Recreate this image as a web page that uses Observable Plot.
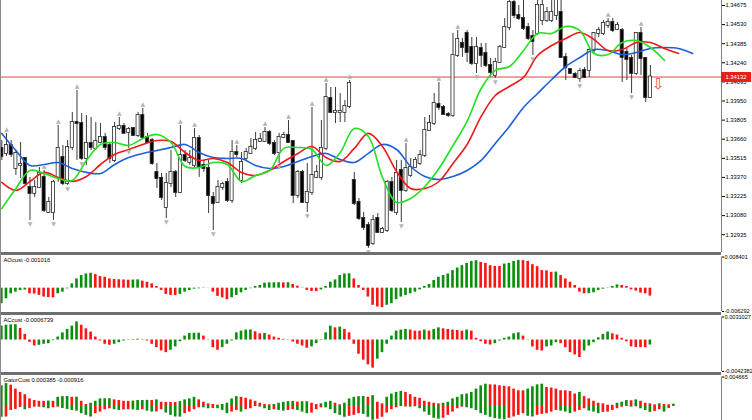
<!DOCTYPE html>
<html><head><meta charset="utf-8">
<script src="https://cdn.jsdelivr.net/npm/d3@7"></script>
<script src="https://cdn.jsdelivr.net/npm/@observablehq/plot@0.6"></script>
<style>
body{margin:0;background:#fff;}
#wrap{position:relative;width:752px;height:420px;overflow:hidden;background:#fff;font-family:"Liberation Sans",Arial,sans-serif;}
.sep{position:absolute;left:0;width:721px;height:3px;background:#6e6e6e;}
#priceTag{position:absolute;left:721px;width:30px;height:10px;background:#e8201c;color:#fff;font-size:5.8px;line-height:10px;text-align:center;font-family:"Liberation Sans",Arial,sans-serif;}
</style></head><body><div id="wrap"></div>
<script>
// ---------- main chart data (bar index = array position) ----------
const open = [1.33590,1.33552,1.33612,1.33438,1.33461,1.33514,1.33294,1.33248,1.33294,1.33370,
1.33104,1.33104,1.33370,1.33521,1.33324,1.33597,1.33787,1.33779,1.33514,1.33628,
1.33590,1.33635,1.33673,1.33612,1.33499,1.33741,1.33757,1.33711,1.33741,1.33688,
1.33840,1.33673,1.33650,1.33408,1.33362,1.33142,1.33324,1.33408,1.33256,1.33537,
1.33483,1.33461,1.33666,1.33461,1.33438,1.33218,1.33180,1.33294,1.33332,1.33195,
1.33559,1.33347,1.33514,1.33552,1.33590,1.33643,1.33643,1.33711,1.33628,1.33559,
1.33673,1.33688,1.33643,1.33233,1.33408,1.33180,1.33256,1.33370,1.33370,1.33590,
1.33969,1.33863,1.33863,1.33863,1.33908,1.33347,1.33180,1.33058,1.33005,1.32869,
1.33058,1.32952,1.32967,1.33332,1.33104,1.33423,1.33271,1.33385,1.33445,1.33476,
1.33537,1.33726,1.33779,1.33924,1.33901,1.33848,1.33840,1.34296,1.34387,1.34463,
1.34356,1.34235,1.34349,1.34311,1.34220,1.34144,1.34242,1.34356,1.34508,1.34698,
1.34599,1.34576,1.34508,1.34440,1.34463,1.34561,1.34561,1.34561,1.34599,1.34622,
1.34280,1.34189,1.34151,1.34121,1.34182,1.34182,1.34333,1.34463,1.34463,1.34523,
1.34546,1.34493,1.34485,1.34318,1.34273,1.34159,1.34463,1.34273,1.33977];
const high = [1.33650,1.33704,1.33650,1.33574,1.33635,1.33521,1.33370,1.33347,1.33445,1.33423,
1.33218,1.33347,1.33764,1.33612,1.33650,1.33863,1.34030,1.33855,1.33840,1.33825,
1.33787,1.33779,1.33704,1.33635,1.33787,1.33825,1.33779,1.33749,1.33749,1.33863,
1.33893,1.33704,1.33666,1.33476,1.33400,1.33400,1.33574,1.33423,1.33764,1.33574,
1.33574,1.33741,1.33688,1.33499,1.33499,1.33256,1.33347,1.33332,1.33362,1.33650,
1.33612,1.33559,1.33590,1.33666,1.33711,1.33704,1.33749,1.33726,1.33650,1.33704,
1.33711,1.33802,1.33650,1.33423,1.33423,1.33476,1.33901,1.33461,1.33802,1.34083,
1.34053,1.34053,1.34007,1.33954,1.34106,1.33408,1.33210,1.33104,1.33028,1.33081,
1.33096,1.32990,1.33347,1.33370,1.33499,1.33499,1.33628,1.33514,1.33521,1.33574,
1.33825,1.33840,1.34007,1.34091,1.33916,1.33863,1.34463,1.34485,1.34425,1.34485,
1.34432,1.34432,1.34387,1.34387,1.34273,1.34273,1.34371,1.34576,1.34774,1.34751,
1.34675,1.34713,1.34538,1.34485,1.34751,1.34751,1.34660,1.34736,1.34774,1.34736,
1.34311,1.34197,1.34167,1.34197,1.34204,1.34349,1.34470,1.34508,1.34561,1.34576,
1.34576,1.34546,1.34500,1.34349,1.34296,1.34470,1.34508,1.34280,1.34220];
const low = [1.33499,1.33529,1.33521,1.33385,1.33362,1.33309,1.33043,1.33218,1.33286,1.33104,
1.33096,1.33043,1.33332,1.33309,1.33309,1.33574,1.33499,1.33499,1.33461,1.33574,
1.33574,1.33628,1.33574,1.33476,1.33483,1.33726,1.33704,1.33590,1.33681,1.33673,
1.33666,1.33628,1.33461,1.33286,1.33195,1.33058,1.33294,1.33218,1.33248,1.33483,
1.33461,1.33438,1.33370,1.33408,1.33096,1.32967,1.33172,1.33271,1.33180,1.33172,
1.33521,1.33324,1.33499,1.33544,1.33574,1.33635,1.33635,1.33612,1.33536,1.33476,
1.33666,1.33628,1.33172,1.33210,1.33172,1.33104,1.33233,1.33362,1.33347,1.33574,
1.33855,1.33779,1.33787,1.33787,1.33893,1.33157,1.33043,1.32967,1.32831,1.32853,
1.32945,1.32945,1.32952,1.33104,1.33081,1.33028,1.33256,1.33370,1.33438,1.33461,
1.33521,1.33719,1.33764,1.33878,1.33840,1.33825,1.33825,1.34280,1.34280,1.34242,
1.34220,1.34159,1.34204,1.34204,1.34129,1.34121,1.34235,1.34349,1.34485,1.34576,
1.34561,1.34485,1.34409,1.34296,1.34447,1.34523,1.34546,1.34546,1.34561,1.34273,
1.34106,1.34151,1.34121,1.34091,1.34121,1.34129,1.34311,1.34432,1.34447,1.34500,
1.34470,1.34485,1.34091,1.34106,1.34007,1.34144,1.34144,1.33939,1.33969];
const close = [1.33529,1.33612,1.33544,1.33552,1.33468,1.33324,1.33248,1.33294,1.33400,1.33119,
1.33180,1.33332,1.33590,1.33324,1.33597,1.33787,1.33779,1.33514,1.33628,1.33597,
1.33643,1.33673,1.33597,1.33514,1.33749,1.33757,1.33704,1.33734,1.33688,1.33840,
1.33673,1.33635,1.33476,1.33362,1.33218,1.33324,1.33408,1.33256,1.33537,1.33499,
1.33514,1.33666,1.33445,1.33438,1.33233,1.33172,1.33294,1.33316,1.33195,1.33559,
1.33544,1.33483,1.33559,1.33597,1.33650,1.33658,1.33711,1.33628,1.33552,1.33673,
1.33688,1.33635,1.33233,1.33408,1.33180,1.33256,1.33385,1.33408,1.33590,1.33977,
1.33863,1.33871,1.33871,1.33908,1.34083,1.33172,1.33058,1.32990,1.32853,1.33043,
1.32952,1.32975,1.33332,1.33119,1.33400,1.33271,1.33438,1.33445,1.33499,1.33537,
1.33726,1.33779,1.33931,1.33901,1.33848,1.33840,1.34296,1.34417,1.34356,1.34318,
1.34235,1.34356,1.34296,1.34220,1.34167,1.34242,1.34356,1.34508,1.34698,1.34599,
1.34576,1.34500,1.34425,1.34402,1.34675,1.34675,1.34622,1.34622,1.34713,1.34280,
1.34204,1.34159,1.34129,1.34174,1.34129,1.34333,1.34463,1.34485,1.34538,1.34546,
1.34485,1.34523,1.34280,1.34265,1.34159,1.34463,1.34273,1.33977,1.34132];

const fractalUp = [1,9,12,16,25,30,38,41,50,56,61,66,69,74,86,93,97,129,136];
const fractalDown = [6,11,14,17,27,35,45,59,65,78,85,101,105,113,123,134];

// moving-average (alligator-like) lines, sampled every 3 bars
const maBar = [0,3,6,9,12,15,18,21,24,27,30,33,36,39,42,45,48,51,54,57,60,63,66,69,72,75,78,81,84,87,90,93,96,99,102,105,108,111,114,117,120,123,126,129,132,135,138,141,144,147];
const blueLine = [1.33704,1.33574,1.33461,1.33468,1.33483,1.33438,1.33408,1.33400,1.33468,1.33521,
1.33552,1.33574,1.33597,1.33620,1.33559,1.33521,1.33514,1.33514,1.33461,1.33438,
1.33453,1.33491,1.33529,1.33552,1.33506,1.33483,1.33552,1.33620,1.33582,1.33453,
1.33377,1.33354,1.33377,1.33423,1.33499,1.33628,1.33757,1.33901,1.34007,1.34113,
1.34212,1.34280,1.34341,1.34333,1.34303,1.34318,1.34349,1.34356,1.34349,1.34311];
const redLine = [1.33332,1.33271,1.33339,1.33408,1.33370,1.33339,1.33377,1.33468,1.33544,1.33582,
1.33620,1.33650,1.33643,1.33559,1.33499,1.33514,1.33483,1.33408,1.33385,1.33423,
1.33491,1.33552,1.33605,1.33521,1.33491,1.33590,1.33704,1.33605,1.33415,1.33286,
1.33286,1.33339,1.33476,1.33620,1.33833,1.33992,1.34060,1.34129,1.34296,1.34371,
1.34425,1.34470,1.34417,1.34333,1.34341,1.34394,1.34394,1.34349,1.34311];
const greenLine = [1.33134,1.33286,1.33423,1.33400,1.33362,1.33347,1.33499,1.33620,1.33635,1.33612,
1.33666,1.33696,1.33635,1.33453,1.33445,1.33483,1.33468,1.33339,1.33385,1.33423,
1.33590,1.33597,1.33582,1.33461,1.33559,1.33741,1.33681,1.33370,1.33180,1.33210,
1.33301,1.33438,1.33612,1.33795,1.34045,1.34182,1.34212,1.34333,1.34463,1.34463,
1.34516,1.34485,1.34311,1.34303,1.34394,1.34409,1.34356,1.34258];

const lastPrice = 1.34132;
const sellSignal = [{bar:138, price:1.34075}];
const priceTicks = [1.34675,1.34530,1.34385,1.34240,1.34095,1.33950,1.33805,1.33660,1.33515,1.33370,1.33225,1.33080,1.32935];

// ---------- sub-window data ----------
const aoValues = [-0.00419,-0.00286,-0.00152,-0.00107,-0.00064,-0.00051,-0.00152,-0.00158,-0.00195,-0.00240,
-0.00254,-0.00262,-0.00152,-0.00107,-0.00019,0.00115,0.00248,0.00339,0.00382,0.00401,
0.00366,0.00312,0.00294,0.00248,0.00235,0.00227,0.00222,0.00214,0.00219,0.00224,
0.00187,0.00160,0.00115,0.00045,-0.00061,-0.00168,-0.00195,-0.00200,-0.00168,-0.00107,
-0.00061,-0.00027,-0.00016,-0.00008,-0.00003,-0.00107,-0.00222,-0.00259,-0.00312,-0.00259,
-0.00195,-0.00125,-0.00061,-0.00013,0.00045,0.00072,0.00134,0.00142,0.00144,0.00147,
0.00142,0.00147,0.00099,0.00053,0.00008,-0.00061,-0.00088,-0.00093,-0.00045,0.00045,
0.00160,0.00222,0.00339,0.00382,0.00387,0.00248,0.00072,-0.00061,-0.00240,-0.00462,
-0.00507,-0.00526,-0.00462,-0.00419,-0.00312,-0.00240,-0.00195,-0.00152,-0.00107,-0.00045,
0.00045,0.00099,0.00206,0.00294,0.00339,0.00382,0.00473,0.00542,0.00606,0.00668,
0.00721,0.00740,0.00694,0.00668,0.00606,0.00587,0.00585,0.00649,0.00668,0.00721,
0.00748,0.00742,0.00721,0.00633,0.00579,0.00473,0.00467,0.00427,0.00433,0.00339,
0.00248,0.00160,0.00072,-0.00107,-0.00152,-0.00147,-0.00125,-0.00061,-0.00027,-0.00008,
0.00045,0.00088,0.00072,0.00045,-0.00045,-0.00080,-0.00134,-0.00152,-0.00214];
const acValues = [0.00187,0.00200,0.00204,0.00207,0.00156,0.00076,-0.00031,-0.00080,-0.00071,-0.00057,
-0.00049,-0.00009,0.00040,0.00097,0.00143,0.00187,0.00244,0.00200,0.00151,0.00107,
0.00040,-0.00013,-0.00057,-0.00071,-0.00057,-0.00036,-0.00013,-0.00004,0.00007,0.00011,
0.00005,-0.00013,-0.00057,-0.00103,-0.00147,-0.00170,-0.00138,-0.00093,-0.00023,0.00053,
0.00089,0.00091,0.00092,0.00053,-0.00004,-0.00103,-0.00138,-0.00103,-0.00057,-0.00013,
0.00097,0.00120,0.00134,0.00136,0.00111,0.00084,0.00089,0.00067,0.00040,0.00023,
0.00009,0.00004,-0.00027,-0.00057,-0.00080,-0.00111,-0.00093,-0.00049,-0.00007,0.00097,
0.00187,0.00164,0.00174,0.00143,0.00097,-0.00057,-0.00191,-0.00271,-0.00334,-0.00378,
-0.00258,-0.00170,-0.00057,0.00053,0.00120,0.00134,0.00143,0.00134,0.00120,0.00119,
0.00134,0.00120,0.00143,0.00164,0.00151,0.00143,0.00134,0.00129,0.00120,0.00134,
0.00120,0.00023,-0.00023,-0.00057,-0.00067,-0.00049,-0.00013,0.00023,0.00040,0.00084,
0.00097,0.00053,-0.00004,-0.00093,-0.00138,-0.00147,-0.00093,-0.00080,-0.00036,-0.00049,
-0.00103,-0.00170,-0.00200,-0.00236,-0.00147,-0.00080,-0.00036,0.00031,0.00076,0.00107,
0.00084,0.00067,0.00023,-0.00023,-0.00091,-0.00100,-0.00101,-0.00103,-0.00067];
const gatorUpper = [0.00322,0.00359,0.00333,0.00269,0.00214,0.00177,0.00108,0.00081,0.00069,0.00068,
0.00072,0.00068,0.00134,0.00145,0.00148,0.00134,0.00137,0.00069,0.00016,0.00037,
0.00069,0.00108,0.00109,0.00111,0.00092,0.00081,0.00069,0.00068,0.00072,0.00081,
0.00082,0.00084,0.00081,0.00092,0.00053,0.00052,0.00050,0.00048,0.00064,0.00092,
0.00108,0.00134,0.00092,0.00053,0.00027,0.00016,0.00005,0.00016,0.00037,0.00108,
0.00145,0.00134,0.00118,0.00092,0.00069,0.00037,0.00016,0.00011,0.00016,0.00037,
0.00053,0.00064,0.00066,0.00056,0.00060,0.00061,0.00037,0.00016,0.00027,0.00053,
0.00069,0.00037,0.00011,0.00037,0.00108,0.00134,0.00145,0.00147,0.00134,0.00161,
0.00053,0.00027,0.00134,0.00188,0.00214,0.00230,0.00214,0.00177,0.00134,0.00118,
0.00069,0.00053,0.00037,0.00027,0.00037,0.00053,0.00108,0.00134,0.00177,0.00188,
0.00214,0.00269,0.00322,0.00349,0.00338,0.00336,0.00322,0.00314,0.00306,0.00269,
0.00242,0.00240,0.00269,0.00306,0.00338,0.00349,0.00295,0.00285,0.00269,0.00242,
0.00240,0.00230,0.00188,0.00214,0.00145,0.00108,0.00069,0.00037,0.00027,0.00005,
0.00003,0.00037,0.00053,0.00081,0.00077,0.00092,0.00069,0.00037,0.00027,0.00011,
0.00027,0.00016,0.00011,0.00021];
const gatorLower = [-0.00193,-0.00188,-0.00081,-0.00064,-0.00032,-0.00069,-0.00048,-0.00027,-0.00027,-0.00037,
-0.00053,-0.00037,-0.00027,-0.00048,-0.00064,-0.00081,-0.00092,-0.00134,-0.00161,-0.00188,
-0.00134,-0.00108,-0.00069,-0.00053,-0.00069,-0.00081,-0.00072,-0.00069,-0.00072,-0.00081,
-0.00069,-0.00092,-0.00108,-0.00105,-0.00069,-0.00124,-0.00161,-0.00188,-0.00190,-0.00134,
-0.00108,-0.00069,-0.00037,-0.00039,-0.00053,-0.00048,-0.00053,-0.00081,-0.00134,-0.00108,
-0.00081,-0.00108,-0.00069,-0.00053,-0.00016,-0.00027,-0.00053,-0.00081,-0.00069,-0.00081,
-0.00092,-0.00081,-0.00069,-0.00081,-0.00108,-0.00134,-0.00124,-0.00069,-0.00037,-0.00039,
-0.00069,-0.00134,-0.00161,-0.00193,-0.00177,-0.00161,-0.00134,-0.00145,-0.00193,-0.00242,
-0.00225,-0.00193,-0.00124,-0.00069,-0.00037,-0.00016,-0.00024,-0.00027,-0.00021,-0.00053,
-0.00108,-0.00161,-0.00209,-0.00225,-0.00209,-0.00161,-0.00108,-0.00053,-0.00027,-0.00037,
-0.00053,-0.00081,-0.00134,-0.00161,-0.00193,-0.00214,-0.00225,-0.00233,-0.00209,-0.00188,
-0.00161,-0.00134,-0.00177,-0.00188,-0.00161,-0.00145,-0.00134,-0.00108,-0.00081,-0.00092,
-0.00108,-0.00134,-0.00108,-0.00081,-0.00053,-0.00092,-0.00108,-0.00134,-0.00113,-0.00108,
-0.00081,-0.00053,-0.00027,-0.00016,-0.00027,-0.00021,-0.00053,-0.00081,-0.00113,-0.00097,
-0.00069,-0.00108,-0.00048,-0.00016];

const aoLabel = "AOcust -0.001016", acLabel = "ACcust -0.0006739", gatorLabel = "GatorCust 0.000385 -0.000916";
const aoTicks = [0.008401, -0.006292], acTicks = [0.0031027, -0.0042382], gatorTicks = [0.004665];
const aoRange = [-0.006292, 0.008401], acRange = [-0.0042382, 0.0031027], gatorRange = [-0.004665, 0.004665];

// ---------- rendering ----------
const GREEN = "#0a8f0a", RED = "#ff1414";
const X = {domain: [-0.2766, 153.13], axis: null, label: null};
const FONT = "Liberation Sans, Arial, sans-serif";
const wrap = document.getElementById("wrap");
function place(svg, top) { svg.style.position = "absolute"; svg.style.left = "0px"; svg.style.top = top + "px"; wrap.appendChild(svg); return svg; }
const edge = [X.domain[1]];

const candles = open.map((o, i) => ({i, o, h: high[i], l: low[i], c: close[i]}));
const lineData = (arr) => arr.map((v, j) => ({bar: maBar[j], v}));

const main = Plot.plot({
  width: 752, height: 252, marginLeft: 0, marginRight: 31, marginTop: 0, marginBottom: 0,
  style: {background: "transparent", overflow: "visible", fontFamily: FONT},
  x: X,
  y: {domain: [1.32800, 1.34713], label: null},
  marks: [
    Plot.ruleY([lastPrice], {stroke: "#e8413c", strokeWidth: 1}),
    Plot.ruleX(candles, {x: "i", y1: "l", y2: "h", stroke: "#3a3a3a", strokeWidth: 1}),
    Plot.rect(candles, {x1: d => d.i - 0.33, x2: d => d.i + 0.33, y1: "o", y2: "c", insetTop: -0.5, insetBottom: -0.5,
      fill: d => d.c >= d.o ? "#ffffff" : "#000000", stroke: "#2a2a2a", strokeWidth: 0.8}),
    Plot.line(lineData(blueLine), {x: "bar", y: "v", stroke: "#1d5fd6", strokeWidth: 1.6, curve: "catmull-rom"}),
    Plot.line(lineData(redLine), {x: "bar", y: "v", stroke: "#f01818", strokeWidth: 1.6, curve: "catmull-rom"}),
    Plot.line(lineData(greenLine), {x: "bar", y: "v", stroke: "#22e022", strokeWidth: 1.6, curve: "catmull-rom"}),
    Plot.text(fractalUp, {x: d => d, y: d => high[d], text: () => "▲", dy: -4, fontSize: 6, fill: "#b4b4b4", fontFamily: "DejaVu Sans"}),
    Plot.text(fractalDown, {x: d => d, y: d => low[d], text: () => "▼", dy: 4, fontSize: 6, fill: "#b4b4b4", fontFamily: "DejaVu Sans"}),
    Plot.text(sellSignal, {x: "bar", y: "price", text: () => "⇩", dx: 8, fontSize: 15, fill: "#f03c3c", fontFamily: "DejaVu Sans"}),
    Plot.ruleX(edge, {stroke: "#808080", strokeWidth: 1}),
    Plot.axisY(priceTicks, {anchor: "right", label: null, tickSize: 3, tickPadding: 1, fontSize: 5.8, tickFormat: d => d.toFixed(5)})
  ]
});
place(main, 0);

function histo(values, label, ticks, range, top, height, bottomMargin) {
  const data = values.map((v, i) => ({i, v, up: i === 0 ? true : v > values[i - 1]}));
  return place(Plot.plot({
    width: 752, height, marginLeft: 0, marginRight: 31, marginTop: 1.5, marginBottom: bottomMargin,
    style: {background: "transparent", overflow: "visible", fontFamily: FONT},
    x: X, y: {domain: range, label: null},
    marks: [
      Plot.rect(data, {x1: d => d.i - 0.28, x2: d => d.i + 0.28, y1: 0, y2: "v", fill: d => d.up ? GREEN : RED}),
      Plot.ruleX(edge, {stroke: "#808080", strokeWidth: 1}),
      Plot.text([label], {frameAnchor: "top-left", text: d => d, dx: 3, dy: 1, fontSize: 5.8, fill: "#000"}),
      Plot.axisY(ticks, {anchor: "right", label: null, tickSize: 2, tickPadding: 1, fontSize: 5.6, tickFormat: d => String(d)})
    ]
  }), top);
}
histo(aoValues, aoLabel, aoTicks, aoRange, 255, 57, 1);
histo(acValues, acLabel, acTicks, acRange, 315, 57, 1);

// gator: two histograms around zero
const gUp = gatorUpper.map((v, i) => ({i, v, grow: i === 0 ? true : v > gatorUpper[i - 1]}));
const gDn = gatorLower.map((v, i) => ({i, v, grow: i === 0 ? true : Math.abs(v) > Math.abs(gatorLower[i - 1])}));
place(Plot.plot({
  width: 752, height: 60, marginLeft: 0, marginRight: 31, marginTop: 1.5, marginBottom: 1.5,
  style: {background: "transparent", overflow: "visible", fontFamily: FONT},
  x: X, y: {domain: gatorRange, label: null},
  marks: [
    Plot.rect(gUp, {x1: d => d.i - 0.28, x2: d => d.i + 0.28, y1: 0, y2: "v", fill: d => d.grow ? GREEN : RED}),
    Plot.rect(gDn, {x1: d => d.i - 0.28, x2: d => d.i + 0.28, y1: 0, y2: "v", fill: d => d.grow ? GREEN : RED}),
    Plot.ruleX(edge, {stroke: "#808080", strokeWidth: 1}),
    Plot.text([gatorLabel], {frameAnchor: "top-left", text: d => d, dx: 3, dy: 1, fontSize: 5.8, fill: "#000"}),
    Plot.axisY(gatorTicks, {anchor: "right", label: null, tickSize: 2, tickPadding: 1, fontSize: 5.6, tickFormat: d => String(d)})
  ]
}), 375);

// window separators and left border
[252, 312, 372].forEach(t => { const s = document.createElement("div"); s.className = "sep"; s.style.top = t + "px"; wrap.appendChild(s); });
const lb = document.createElement("div");
lb.style.cssText = "position:absolute;left:0;top:0;width:1px;height:420px;background:#8a8a8a;";
wrap.appendChild(lb);

// current price tag on the price axis
const tag = document.createElement("div");
tag.id = "priceTag";
tag.textContent = lastPrice.toFixed(5);
tag.style.top = (main.scale("y").apply(lastPrice) - 5) + "px";
wrap.appendChild(tag);
</script>
</body></html>
